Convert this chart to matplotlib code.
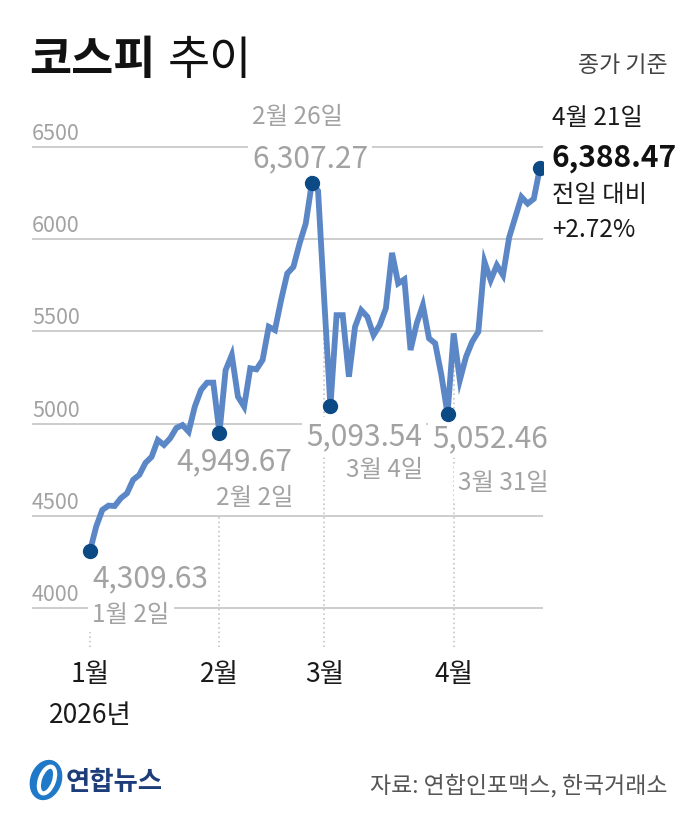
import matplotlib
matplotlib.use("Agg")
import matplotlib.pyplot as plt
from matplotlib.patches import Ellipse

plt.rcParams['font.family'] = ['Noto Sans CJK KR', 'DejaVu Sans']

# ---- data (KOSPI closing, trading-day index) ----
kospi = [
    4309.63, 4441, 4532, 4555, 4553, 4595, 4622, 4695, 4722, 4787,
    4820, 4911, 4884, 4920, 4976, 4992, 4956, 5092, 5182, 5222,
    5222, 4949.67, 5290, 5372, 5146, 5092, 5300, 5294, 5345, 5525,
    5507, 5670, 5814, 5850, 5977, 6085, 6307.27, 6262, 5670, 5093.54,
    5588, 5588, 5254, 5525, 5615, 5579, 5480, 5534, 5625, 5926,
    5760, 5782, 5399, 5543, 5642, 5462, 5435, 5264, 5052.46, 5489,
    5236, 5362, 5444, 5498, 5877, 5778, 5859, 5805, 6010, 6120,
    6229, 6193, 6219.3, 6388.47,
]
month_idx = [0, 21, 38, 59]
month_labels = ['1월', '2월', '3월', '4월']
year_label = '2026년'
yticks = [4000, 4500, 5000, 5500, 6000, 6500]

# highlighted points: (index, value text, date text)
highlights = [
    (0, '4,309.63', '1월 2일'),
    (21, '4,949.67', '2월 2일'),
    (36, '6,307.27', '2월 26일'),
    (39, '5,093.54', '3월 4일'),
    (58, '5,052.46', '3월 31일'),
    (73, '6,388.47', '4월 21일'),
]
change_label = ['전일 대비', '+2.72%']

title_bold = '코스피'
title_normal = '추이'
unit_note = '종가 기준'
source = '자료: 연합인포맥스, 한국거래소'
logo_text = '연합뉴스'

# ---- figure ----
W, H = 700, 816
fig = plt.figure(figsize=(W / 100, H / 100), dpi=100)
fig.patch.set_facecolor('white')

def fx(x):
    return x / W

def fy(y):
    return 1 - y / H

ax = fig.add_axes([fx(32), fy(650), 511 / W, 550 / H])
ax.set_xlim(-9.41, 73.49)
ax.set_ylim(3772, 6755)
for s in ax.spines.values():
    s.set_visible(False)
ax.set_xticks([])
ax.set_yticks([])

GRID = '#c9c9c9'
GRAY = '#a2a2a2'
LINE = '#5b87c6'
DOT = '#0c4a86'

for v in yticks:
    ax.axhline(v, color=GRID, lw=1.3, zorder=1)
    ax.annotate(str(v), xy=(0, v), xycoords=('axes fraction', 'data'),
                xytext=(0, 5), textcoords='offset points',
                ha='left', va='baseline', fontsize=15.5, color=GRAY, zorder=2)

# dotted month guides
ylo = ax.get_ylim()[0] + 18
for i in month_idx:
    ax.vlines(i, ylo, kospi[i], colors='#bdbdbd', linestyles=(0, (1, 2)), lw=1.1, zorder=1.5)

x = list(range(len(kospi)))
ax.plot(x, kospi, color=LINE, lw=4.2, solid_joinstyle='miter', zorder=4)
hx = [h[0] for h in highlights]
ax.plot(hx, [kospi[i] for i in hx], 'o', color=DOT, ms=10, zorder=5)

BG = dict(facecolor='white', edgecolor='none', pad=3)

def lab(i, txt, dx_px, base_y_px, ha, size, color=GRAY, weight='normal', bg=True):
    vy = kospi[i]
    yp = 239.2 - (vy - 6000) / 5.423
    ax.annotate(txt, xy=(i, vy), xytext=(dx_px * 0.72, -(base_y_px - yp) * 0.72),
                textcoords='offset points', ha=ha, va='baseline', fontsize=size,
                color=color, fontweight=weight, zorder=3,
                bbox=BG if bg else None)

NUM = 21.5
DATE = 17.5
# Jan 2
lab(0, '4,309.63', 2, 587, 'left', NUM)
lab(0, '1월 2일', 2, 622, 'left', DATE)
# Feb 2
lab(21, '4,949.67', 292 - 219.4, 470, 'right', NUM)
lab(21, '2월 2일', 293 - 219.4, 505, 'right', DATE)
# Feb 26
lab(36, '2월 26일', 253 - 312.8, 124, 'left', DATE)
lab(36, '6,307.27', 253 - 312.8, 167, 'left', NUM)
# Mar 4
lab(39, '5,093.54', 422 - 330.4, 445, 'right', NUM)
lab(39, '3월 4일', 423 - 330.4, 477, 'right', DATE)
# Mar 31
lab(58, '5,052.46', 548 - 447.5, 447, 'right', NUM)
lab(58, '3월 31일', 549 - 447.5, 490, 'right', DATE)
# Apr 21
lab(73, '4월 21일', 12, 125, 'left', DATE, color='#1a1a1a', bg=False)
lab(73, '6,388.47', 12, 167, 'left', NUM, color='#111111', weight='bold', bg=False)
lab(73, change_label[0], 12, 202, 'left', DATE, color='#1a1a1a', bg=False)
lab(73, change_label[1], 12, 237, 'left', DATE, color='#1a1a1a', bg=False)

# month labels
for i, m in zip(month_idx, month_labels):
    ax.annotate(m, xy=(i, 0), xycoords=('data', 'axes fraction'),
                xytext=(0, -32 * 0.72), textcoords='offset points',
                ha='center', va='baseline', fontsize=19, color='#1a1a1a')
ax.annotate(year_label, xy=(0, 0), xycoords=('data', 'axes fraction'),
            xytext=(0, -73 * 0.72), textcoords='offset points',
            ha='center', va='baseline', fontsize=19, color='#1a1a1a')

# title
fig.text(fx(29), fy(74), title_bold, fontsize=33, fontweight='bold', color='#111111', va='baseline')
fig.text(fx(168), fy(74), title_normal, fontsize=33, fontweight='light', color='#111111', va='baseline')
fig.text(fx(668), fy(72), unit_note, fontsize=16.5, color='#444444', ha='right', va='baseline')

# footer
fig.text(fx(668), fy(793), source, fontsize=16.5, color='#555555', ha='right', va='baseline')
lax = fig.add_axes([fx(28), fy(802), 38 / W, 44 / H])
lax.set_xlim(0, 38); lax.set_ylim(0, 44)
lax.axis('off')
lax.add_patch(Ellipse((18, 22), 30, 40, angle=-20, color='#1f78c8'))
lax.add_patch(Ellipse((19, 22), 14, 28, angle=-20, fill=False, ec='white', lw=3))
fig.text(fx(66), fy(790), logo_text, fontsize=19, fontweight='bold', color='#1c3d7a', va='baseline')

fig.savefig('out.png', dpi=100, facecolor='white')
